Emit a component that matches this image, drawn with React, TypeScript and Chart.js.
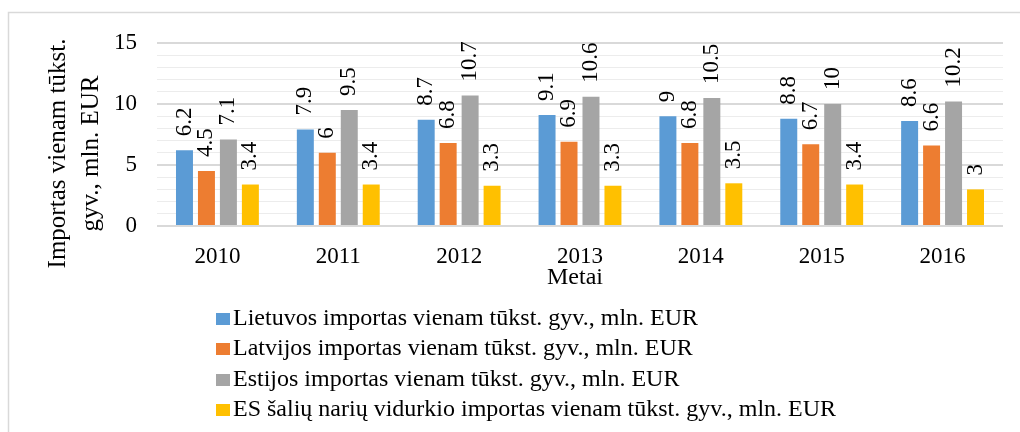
import React, { useEffect, useRef } from 'react';
import { Chart, registerables } from 'chart.js';

Chart.register(...registerables);

const years = ['2010', '2011', '2012', '2013', '2014', '2015', '2016'];
const lietuva = [6.2, 7.9, 8.7, 9.1, 9.0, 8.8, 8.6];
const latvija = [4.5, 6.0, 6.8, 6.9, 6.8, 6.7, 6.6];
const estija = [7.1, 9.5, 10.7, 10.6, 10.5, 10.0, 10.2];
const esVidurkis = [3.4, 3.4, 3.3, 3.3, 3.5, 3.4, 3.0];

const seriesNames = [
  'Lietuvos importas vienam tūkst. gyv., mln. EUR',
  'Latvijos importas vienam tūkst. gyv., mln. EUR',
  'Estijos importas vienam tūkst. gyv., mln. EUR',
  'ES šalių narių vidurkio importas vienam tūkst. gyv., mln. EUR',
];
const seriesColors = ['#5B9BD5', '#ED7D31', '#A5A5A5', '#FFC000'];
const yTitleLines = ['Importas vienam tūkst.', 'gyv., mln. EUR'];
const xTitle = 'Metai';
const yMin = 0;
const yMax = 15;
const yLabelStep = 5;

const FONT = "'Liberation Serif', 'Times New Roman', serif";

const decorPlugin = {
  id: 'decor',
  beforeDraw(chart: any) {
    const ctx = chart.ctx;
    ctx.save();
    ctx.fillStyle = '#ffffff';
    ctx.fillRect(0, 0, chart.width, chart.height);
    ctx.strokeStyle = '#d9d9d9';
    ctx.lineWidth = 1.5;
    ctx.strokeRect(8.5, 12.5, chart.width + 20, chart.height + 20);
    ctx.restore();
  },
  afterDatasetsDraw(chart: any) {
    const ctx = chart.ctx;
    ctx.save();
    ctx.fillStyle = '#000';
    ctx.font = `23px ${FONT}`;
    ctx.textAlign = 'left';
    ctx.textBaseline = 'middle';
    chart.data.datasets.forEach((ds: any, di: number) => {
      const meta = chart.getDatasetMeta(di);
      meta.data.forEach((el: any, i: number) => {
        ctx.save();
        ctx.translate(el.x, el.y - 14);
        ctx.rotate(-Math.PI / 2);
        ctx.fillText(String(ds.data[i]), 0, 0);
        ctx.restore();
      });
    });
    ctx.restore();
  },
  afterDraw(chart: any) {
    const ctx = chart.ctx;
    const area = chart.chartArea;
    ctx.save();
    ctx.fillStyle = '#000';
    // y axis title
    ctx.font = `25px ${FONT}`;
    ctx.textAlign = 'center';
    ctx.textBaseline = 'middle';
    const cy = (area.top + area.bottom) / 2 + 19;
    yTitleLines.forEach((line, i) => {
      ctx.save();
      ctx.translate(58 + i * 33, cy);
      ctx.rotate(-Math.PI / 2);
      ctx.fillText(line, 0, 0);
      ctx.restore();
    });
    // x axis title
    ctx.font = `24px ${FONT}`;
    ctx.textBaseline = 'alphabetic';
    ctx.fillText(xTitle, (area.left + area.right) / 2 - 5, 284);
    // legend
    ctx.textAlign = 'left';
    ctx.font = `24px ${FONT}`;
    chart.data.datasets.forEach((ds: any, i: number) => {
      const base = 325 + i * 30.3;
      ctx.fillStyle = ds.backgroundColor;
      ctx.fillRect(216, Math.round(base - 12), 14, 12);
      ctx.fillStyle = '#000';
      ctx.fillText(ds.label, 233, base);
    });
    ctx.restore();
  },
};

export default function App() {
  const ref = useRef<HTMLCanvasElement | null>(null);
  useEffect(() => {
    if (!ref.current) return;
    const all = [lietuva, latvija, estija, esVidurkis];
    const chart = new Chart(ref.current, {
      type: 'bar',
      data: {
        labels: years,
        datasets: all.map((d, i) => ({
          label: seriesNames[i],
          data: d,
          backgroundColor: seriesColors[i],
          borderWidth: 0,
          categoryPercentage: 0.727,
          barPercentage: 0.773,
        })),
      },
      options: {
        animation: false,
        responsive: false,
        maintainAspectRatio: false,
        layout: { padding: { left: 20, top: 43, right: 17, bottom: 146 } },
        plugins: {
          legend: { display: false },
          tooltip: { enabled: false },
          title: { display: false },
        },
        scales: {
          x: {
            grid: { display: false, drawTicks: false },
            border: { display: false },
            ticks: {
              color: '#000',
              font: { family: FONT, size: 23 },
              padding: 17,
              maxRotation: 0,
              autoSkip: false,
            },
            afterFit: (scale: any) => {
              scale.height = 60;
            },
          },
          y: {
            min: yMin,
            max: yMax,
            grid: {
              drawTicks: false,
              color: (c: any) => (c.tick && c.tick.value % yLabelStep === 0 ? '#d9d9d9' : '#ececec'),
              lineWidth: (c: any) => (c.tick && c.tick.value % yLabelStep === 0 ? 2 : 1),
            },
            border: { display: false },
            ticks: {
              stepSize: 1,
              autoSkip: false,
              color: '#000',
              font: { family: FONT, size: 23 },
              padding: 20,
              callback: (v: any) => (Number(v) % yLabelStep === 0 ? String(v) : ''),
            },
            afterFit: (scale: any) => {
              scale.width = 137;
            },
          },
        },
      },
      plugins: [decorPlugin],
    });
    return () => chart.destroy();
  }, []);
  return (
    <div style={{ position: 'fixed', left: 0, top: 0, width: 1020, height: 432, overflow: 'hidden' }}>
      <canvas ref={ref} width={1020} height={432} style={{ width: 1020, height: 432, display: 'block' }} />
    </div>
  );
}
